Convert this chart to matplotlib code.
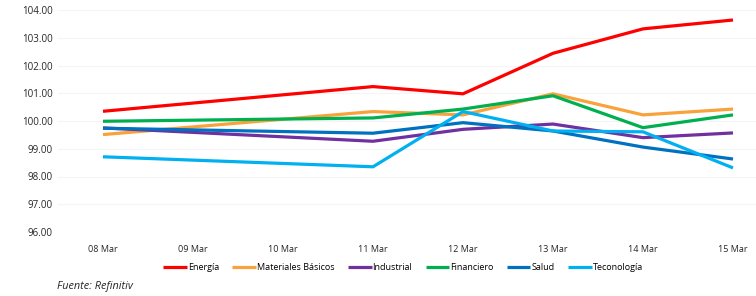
import numpy as np
import matplotlib.pyplot as plt

# dias de negociacion (marzo)
dias = [8, 11, 12, 13, 14, 15]
etiquetas_x = ["08 Mar", "09 Mar", "10 Mar", "11 Mar", "12 Mar", "13 Mar", "14 Mar", "15 Mar"]
ticks_x = [8, 9, 10, 11, 12, 13, 14, 15]

energia = [100.35, 101.24, 100.98, 102.44, 103.32, 103.64]
materiales = [99.51, 100.34, 100.22, 100.98, 100.22, 100.43]
industrial = [99.75, 99.27, 99.70, 99.89, 99.40, 99.57]
financiero = [99.99, 100.11, 100.43, 100.91, 99.76, 100.22]
salud = [99.74, 99.56, 99.94, 99.64, 99.06, 98.63]
tecnologia = [98.71, 98.35, 100.34, 99.64, 99.61, 98.31]

series = [
    ("Energía", energia, "#FF0000"),
    ("Materiales Básicos", materiales, "#F9A23B"),
    ("Industrial", industrial, "#7030A0"),
    ("Financiero", financiero, "#00B050"),
    ("Salud", salud, "#0070C0"),
    ("Teconología", tecnologia, "#00B0F0"),
]

plt.rcParams['font.family'] = ['Open Sans', 'DejaVu Sans']

fig = plt.figure(figsize=(7.56, 2.96), dpi=100)
ax = fig.add_axes([58/756, 1-232/296, 720/756, 222/296])

for nombre, vals, col in series:
    ax.plot(dias, vals, color=col, lw=2.3, label=nombre, solid_capstyle='butt')

ax.set_xlim(7.5, 15.5)
ax.set_ylim(96, 104)
ax.set_yticks(np.arange(96, 104.1, 1))
ax.set_yticklabels([f"{v:.2f}" for v in np.arange(96, 104.1, 1)])
ax.set_xticks(ticks_x)
ax.set_xticklabels(etiquetas_x)
ax.tick_params(axis='both', length=0, labelsize=6.5, colors='#262626')
ax.tick_params(axis='y', labelsize=7, pad=4)
ax.tick_params(axis='x', pad=9)
ax.grid(axis='y', color='#F5F5F5', lw=0.8)
ax.set_axisbelow(True)
for s in ax.spines.values():
    s.set_visible(False)

fig.legend(loc='center', bbox_to_anchor=(403/756, 1-268/296), ncol=6, frameon=False,
           fontsize=6.5, handlelength=2.6, handletextpad=0.1, columnspacing=1.5,
           borderaxespad=0)

fig.text(57/756, 1-287/296, "Fuente: Refinitiv", fontsize=7.8, style='italic',
         va='center', ha='left', color='#262626')

fig.savefig("out.png", dpi=100)
